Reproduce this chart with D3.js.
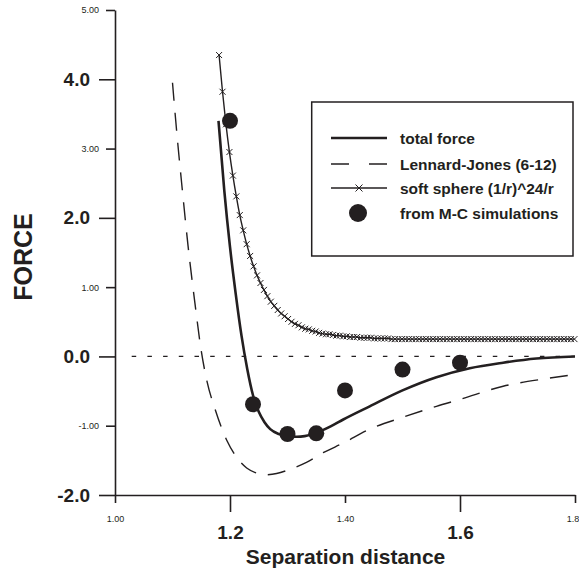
<!DOCTYPE html>
<html>
<head>
<meta charset="utf-8">
<script src="https://cdn.jsdelivr.net/npm/d3@7"></script>
<style>
  body { margin: 0; background: #fff; }
  text { font-family: "Liberation Sans", Arial, sans-serif; fill: #231f20; }
</style>
</head>
<body>
<script>
// Chart data
var totalR = [1.18, 1.19, 1.20, 1.21, 1.22, 1.23, 1.24, 1.25, 1.26, 1.27, 1.285, 1.30, 1.316, 1.33, 1.351, 1.375, 1.397, 1.443, 1.50, 1.559, 1.617, 1.675, 1.733, 1.80];
var totalF = [3.40, 2.40, 1.58, 0.90, 0.30, -0.18, -0.56, -0.80, -0.95, -1.05, -1.12, -1.15, -1.16, -1.15, -1.10, -1.01, -0.91, -0.72, -0.49, -0.30, -0.17, -0.09, -0.03, 0.0];

var ljR = [1.100, 1.108, 1.117, 1.127, 1.139, 1.150, 1.160, 1.174, 1.195, 1.212, 1.229, 1.245, 1.258, 1.281, 1.304, 1.333, 1.362, 1.397, 1.443, 1.50, 1.559, 1.60, 1.675, 1.75, 1.80];
var ljF = [3.95, 3.18, 2.41, 1.60, 0.77, 0.08, -0.36, -0.76, -1.22, -1.46, -1.61, -1.68, -1.71, -1.69, -1.63, -1.53, -1.39, -1.25, -1.05, -0.88, -0.72, -0.62, -0.43, -0.32, -0.26];

// soft sphere markers, sampled every 0.006 starting at r = 1.181
var softStart = 1.181, softStep = 0.006;
var softF = [4.35, 3.82, 3.35, 2.95, 2.61, 2.31, 2.04, 1.82, 1.62, 1.45,
  1.30, 1.17, 1.06, 0.96, 0.87, 0.79, 0.73, 0.67, 0.62, 0.58,
  0.54, 0.50, 0.47, 0.45, 0.42, 0.40, 0.39, 0.37, 0.36, 0.34,
  0.33, 0.32, 0.32, 0.31, 0.30, 0.30, 0.29, 0.29, 0.28, 0.28,
  0.28, 0.27, 0.27, 0.27, 0.27, 0.26, 0.26, 0.26, 0.26, 0.26,
  0.25, 0.25, 0.25, 0.25, 0.25, 0.25, 0.25, 0.25, 0.25, 0.25,
  0.25, 0.25, 0.25, 0.25, 0.25, 0.25, 0.25, 0.25, 0.25, 0.25,
  0.25, 0.25, 0.25, 0.25, 0.25, 0.25, 0.25, 0.25, 0.25, 0.25,
  0.25, 0.25, 0.25, 0.25, 0.25, 0.25, 0.25, 0.25, 0.25, 0.25,
  0.25, 0.25, 0.25, 0.25, 0.25, 0.25, 0.25, 0.25, 0.25, 0.25,
  0.25, 0.25, 0.25, 0.25];

var mcR = [1.20, 1.24, 1.30, 1.35, 1.40, 1.50, 1.60];
var mcF = [3.40, -0.69, -1.12, -1.11, -0.49, -0.19, -0.09];

var yMinorTicks = [5, 3, 1, -1];
var yMinorLabels = ["5.00", "3.00", "1.00", "-1.00"];
var yMajorTicks = [4, 2, 0, -2];
var yMajorLabels = ["4.0", "2.0", "0.0", "-2.0"];
var xMinorTicks = [1.0, 1.4, 1.8];
var xMinorLabels = ["1.00", "1.40", "1.8"];
var xMajorTicks = [1.2, 1.6];
var xMajorLabels = ["1.2", "1.6"];

var legendLabels = ["total force", "Lennard-Jones (6-12)", "soft sphere (1/r)^24/r", "from M-C simulations"];

// Chart params
var svgWidth = 579, svgHeight = 572;
var ink = "#231f20";

var svg = d3.select("body").append("svg")
  .attr("width", svgWidth)
  .attr("height", svgHeight);

var x = d3.scaleLinear().domain([1.0, 1.8]).range([115, 575]);
var y = d3.scaleLinear().domain([-2, 5]).range([495, 10]);

function styleAxis(g, size, bold) {
  g.select(".domain").attr("stroke", ink).attr("stroke-width", 1.6);
  g.selectAll(".tick line").attr("stroke", ink).attr("stroke-width", 1.6);
  g.selectAll(".tick text")
    .attr("fill", ink)
    .style("font-size", size + "px")
    .style("font-weight", bold ? "bold" : "normal")
    .style("font-family", "'Liberation Sans', Arial, sans-serif");
}

// y axis: small labels + big bold labels
svg.append("g")
  .attr("transform", "translate(115,0)")
  .call(d3.axisLeft(y).tickValues(yMinorTicks).tickSize(9).tickPadding(7)
    .tickSizeOuter(0).tickFormat((d, i) => yMinorLabels[i]))
  .call(g => styleAxis(g, 9, false));

svg.append("g")
  .attr("transform", "translate(115,0)")
  .call(d3.axisLeft(y).tickValues(yMajorTicks).tickSize(16).tickPadding(9)
    .tickSizeOuter(0).tickFormat((d, i) => yMajorLabels[i]))
  .call(g => styleAxis(g, 19, true))
  .call(g => g.select(".domain").remove());

// x axis
svg.append("g")
  .attr("transform", "translate(0,495)")
  .call(d3.axisBottom(x).tickValues(xMinorTicks).tickSize(8).tickPadding(13)
    .tickSizeOuter(0).tickFormat((d, i) => xMinorLabels[i]))
  .call(g => styleAxis(g, 9, false))
  .call(g => g.selectAll(".tick text").filter(d => d === 1.8).attr("x", -2.5));

svg.append("g")
  .attr("transform", "translate(0,495)")
  .call(d3.axisBottom(x).tickValues(xMajorTicks).tickSize(17).tickPadding(14)
    .tickSizeOuter(0).tickFormat((d, i) => xMajorLabels[i]))
  .call(g => styleAxis(g, 19, true))
  .call(g => g.select(".domain").remove());

// axis titles
svg.append("text")
  .attr("x", 345.5).attr("y", 564)
  .attr("text-anchor", "middle")
  .style("font-size", "21px").style("font-weight", "bold")
  .text("Separation distance");

svg.append("text")
  .attr("transform", "translate(32,257) rotate(-90)")
  .attr("text-anchor", "middle")
  .style("font-size", "25px").style("font-weight", "bold")
  .text("FORCE");

// zero line
svg.append("line")
  .attr("x1", 131.7).attr("x2", x(1.8))
  .attr("y1", y(0)).attr("y2", y(0))
  .attr("stroke", ink).attr("stroke-width", 1.3)
  .attr("stroke-dasharray", "4.5,11.2");

var line = d3.line()
  .x(d => x(d[0]))
  .y(d => y(d[1]))
  .curve(d3.curveMonotoneX);

var ljData = ljR.map((r, i) => [r, ljF[i]]);
var totalData = totalR.map((r, i) => [r, totalF[i]]);
var softData = softF.map((f, i) => [softStart + i * softStep, f]);

svg.append("path")
  .attr("d", line(ljData))
  .attr("fill", "none").attr("stroke", ink)
  .attr("stroke-width", 1.4).attr("stroke-dasharray", "18,12");

svg.append("path")
  .attr("d", line(softData))
  .attr("fill", "none").attr("stroke", ink)
  .attr("stroke-width", 1.4);

function crossPath(cx, cy, s) {
  return "M" + (cx - s) + "," + (cy - s) + "L" + (cx + s) + "," + (cy + s) +
    "M" + (cx - s) + "," + (cy + s) + "L" + (cx + s) + "," + (cy - s);
}

svg.append("g").selectAll("path")
  .data(softData)
  .enter()
  .append("path")
  .attr("d", d => crossPath(x(d[0]), y(d[1]), 3))
  .attr("stroke", ink).attr("stroke-width", 1)
  .attr("fill", "none");

svg.append("path")
  .attr("d", line(totalData))
  .attr("fill", "none").attr("stroke", ink)
  .attr("stroke-width", 2.6);

svg.append("g").selectAll("circle")
  .data(mcR)
  .enter()
  .append("circle")
  .attr("cx", d => x(d))
  .attr("cy", (d, i) => y(mcF[i]))
  .attr("r", 8)
  .attr("fill", ink);

// Legend
var legend = svg.append("g");
legend.append("rect")
  .attr("x", 311.7).attr("y", 102)
  .attr("width", 261.3).attr("height", 154)
  .attr("fill", "#fff").attr("stroke", ink).attr("stroke-width", 1.5);

var rowY = [138, 164, 188, 213];
var sx1 = 331, sx2 = 387;

legend.append("line")
  .attr("x1", sx1).attr("x2", sx2).attr("y1", rowY[0]).attr("y2", rowY[0])
  .attr("stroke", ink).attr("stroke-width", 2.6);
legend.append("line")
  .attr("x1", sx1).attr("x2", sx2).attr("y1", rowY[1]).attr("y2", rowY[1])
  .attr("stroke", ink).attr("stroke-width", 1.4).attr("stroke-dasharray", "18,20");
legend.append("line")
  .attr("x1", sx1).attr("x2", sx2).attr("y1", rowY[2]).attr("y2", rowY[2])
  .attr("stroke", ink).attr("stroke-width", 1.4);
legend.append("path")
  .attr("d", crossPath((sx1 + sx2) / 2, rowY[2], 3.5))
  .attr("stroke", ink).attr("stroke-width", 1).attr("fill", "none");
legend.append("circle")
  .attr("cx", 358).attr("cy", rowY[3]).attr("r", 9)
  .attr("fill", ink);

legend.selectAll("text.lab")
  .data(legendLabels)
  .enter()
  .append("text")
  .attr("class", "lab")
  .attr("x", 400)
  .attr("y", (d, i) => rowY[i])
  .attr("dy", "0.36em")
  .style("font-size", "15.5px").style("font-weight", "bold")
  .text(d => d);
</script>
</body>
</html>
